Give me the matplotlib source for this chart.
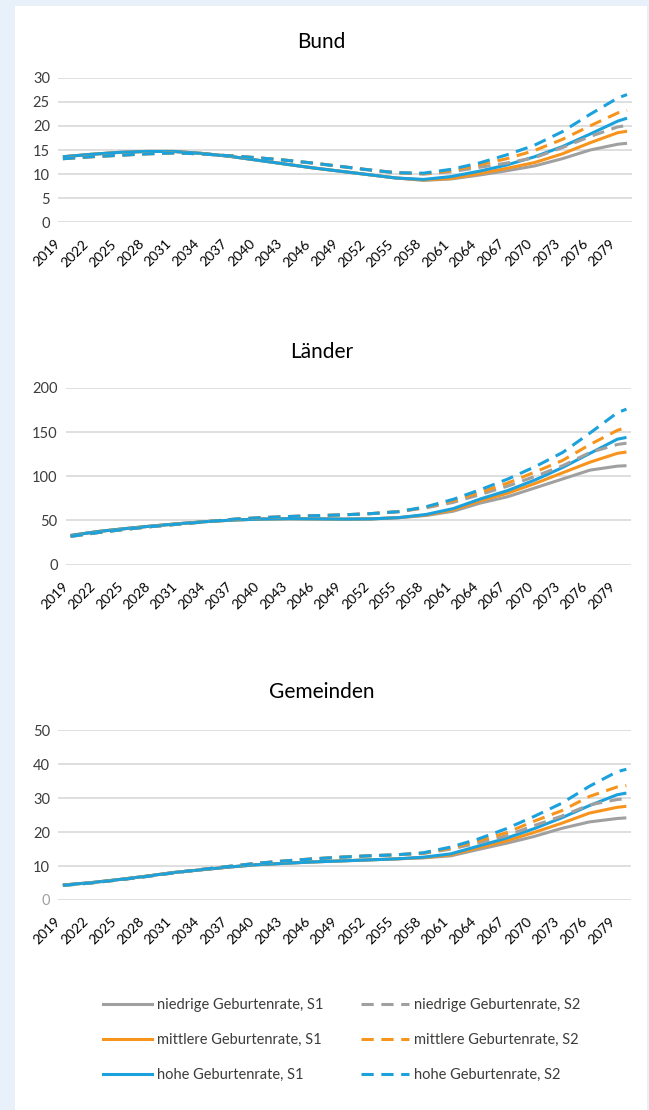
import matplotlib
matplotlib.use("Agg")
from matplotlib import pyplot as plt
from matplotlib.lines import Line2D
from matplotlib.patches import Rectangle

plt.rcParams['font.family'] = ['Lato', 'DejaVu Sans']

years = [2019, 2022, 2025, 2028, 2031, 2034, 2037, 2040, 2043, 2046, 2049,
         2052, 2055, 2058, 2061, 2064, 2067, 2070, 2073, 2076, 2079, 2080]
tick_years = list(range(2019, 2080, 3))

labels = ['niedrige Geburtenrate, S1', 'mittlere Geburtenrate, S1', 'hohe Geburtenrate, S1',
          'niedrige Geburtenrate, S2', 'mittlere Geburtenrate, S2', 'hohe Geburtenrate, S2']
colors = ['#a0a0a0', '#f7941d', '#1ba1dc'] * 2

# Bund
bund_s1_low = [13.6, 14.1, 14.5, 14.7, 14.7, 14.3, 13.7, 12.9, 12.1, 11.3, 10.6,
               9.9, 9.2, 8.7, 9.0, 9.8, 10.7, 11.7, 13.2, 15.0, 16.2, 16.4]
bund_s1_mid = [13.6, 14.1, 14.5, 14.7, 14.7, 14.3, 13.7, 12.9, 12.1, 11.3, 10.6,
               9.9, 9.2, 8.8, 9.1, 10.1, 11.2, 12.4, 14.2, 16.5, 18.6, 18.9]
bund_s1_high = [13.6, 14.1, 14.5, 14.7, 14.7, 14.3, 13.7, 12.9, 12.1, 11.3, 10.6,
                9.9, 9.2, 8.9, 9.5, 10.6, 11.9, 13.6, 15.7, 18.3, 21.0, 21.6]
bund_s2_low = [13.2, 13.6, 13.9, 14.2, 14.4, 14.2, 13.8, 13.4, 12.9, 12.3, 11.6,
               10.9, 10.3, 10.0, 10.5, 11.4, 12.3, 13.4, 15.5, 17.8, 19.8, 20.1]
bund_s2_mid = [13.2, 13.6, 13.9, 14.2, 14.4, 14.2, 13.8, 13.4, 12.9, 12.3, 11.6,
               10.9, 10.3, 10.1, 10.7, 11.9, 13.2, 14.9, 17.2, 20.0, 22.7, 23.2]
bund_s2_high = [13.2, 13.6, 13.9, 14.2, 14.4, 14.2, 13.8, 13.4, 12.9, 12.3, 11.6,
                10.9, 10.3, 10.2, 11.0, 12.3, 14.0, 16.0, 18.8, 22.4, 25.8, 26.5]

# Länder
laender_s1_low = [33, 37.5, 40.8, 43.8, 46.5, 48.8, 50.6, 51.6, 52, 51.8, 51.5,
                  51.8, 53.2, 55.6, 60.5, 69.8, 77, 87, 97, 107, 111.5, 112]
laender_s1_mid = [33, 37.5, 40.8, 43.8, 46.5, 48.8, 50.6, 51.6, 52, 51.8, 51.5,
                  51.8, 53.2, 56.2, 62, 72.5, 81, 92, 104, 116, 126, 127.5]
laender_s1_high = [33, 37.5, 40.8, 43.8, 46.5, 48.8, 50.6, 51.6, 52, 51.8, 51.5,
                   51.8, 53.2, 56.8, 63.5, 74.5, 84, 96, 110, 126, 142, 144]
laender_s2_low = [32, 36.3, 40, 43.2, 46, 48.7, 51.5, 53.2, 54.5, 55.5, 56.4,
                  57.8, 60, 64.3, 70.5, 79.5, 89, 100, 112, 127, 136, 137.5]
laender_s2_mid = [32, 36.3, 40, 43.2, 46, 48.7, 51.5, 53.2, 54.5, 55.5, 56.4,
                  57.8, 60, 65, 72.5, 82, 92.5, 105, 118, 136, 152, 155.5]
laender_s2_high = [32, 36.3, 40, 43.2, 46, 48.7, 51.5, 53.2, 54.5, 55.5, 56.4,
                   57.8, 60, 65.5, 74, 85, 97, 111, 127, 149, 172, 176]

# Gemeinden
gem_s1_low = [4.4, 5.1, 6.0, 7.0, 8.1, 8.9, 9.7, 10.4, 10.8, 11.2, 11.5,
              11.8, 12.1, 12.4, 13.0, 14.9, 16.7, 18.7, 21.1, 23.0, 24.0, 24.2]
gem_s1_mid = [4.4, 5.1, 6.0, 7.0, 8.1, 8.9, 9.7, 10.4, 10.8, 11.2, 11.5,
              11.8, 12.1, 12.5, 13.3, 15.4, 17.4, 19.9, 22.6, 25.6, 27.3, 27.6]
gem_s1_high = [4.4, 5.1, 6.0, 7.0, 8.1, 8.9, 9.7, 10.4, 10.8, 11.2, 11.5,
               11.8, 12.1, 12.6, 13.6, 15.9, 18.2, 21.0, 24.2, 27.8, 31.0, 31.5]
gem_s2_low = [4.3, 5.0, 5.9, 6.9, 8.0, 9.0, 9.9, 10.8, 11.5, 12.1, 12.6,
              13.0, 13.3, 13.7, 15.0, 16.8, 18.9, 21.9, 24.7, 28.0, 29.6, 29.8]
gem_s2_mid = [4.3, 5.0, 5.9, 6.9, 8.0, 9.0, 9.9, 10.8, 11.5, 12.1, 12.6,
              13.0, 13.3, 13.8, 15.3, 17.4, 19.8, 23.2, 26.3, 30.5, 33.3, 33.7]
gem_s2_high = [4.3, 5.0, 5.9, 6.9, 8.0, 9.0, 9.9, 10.8, 11.5, 12.1, 12.6,
               13.0, 13.3, 13.9, 15.6, 18.0, 21.0, 24.6, 28.5, 33.5, 37.8, 38.5]

panels = [
    ('Bund', [bund_s1_low, bund_s1_mid, bund_s1_high, bund_s2_low, bund_s2_mid, bund_s2_high],
     [0, 5, 10, 15, 20, 25, 30], [0.0898, 0.7997, 0.8835, 0.1303], 1 - 42 / 1110),
    ('Länder', [laender_s1_low, laender_s1_mid, laender_s1_high,
                laender_s2_low, laender_s2_mid, laender_s2_high],
     [0, 50, 100, 150, 200], [0.1017, 0.4913, 0.8706, 0.1592], 1 - 352 / 1110),
    ('Gemeinden', [gem_s1_low, gem_s1_mid, gem_s1_high, gem_s2_low, gem_s2_mid, gem_s2_high],
     [0, 10, 20, 30, 40, 50], [0.0898, 0.1892, 0.8824, 0.1529], 1 - 692 / 1110),
]

fig = plt.figure(figsize=(6.49, 11.10), dpi=100)
fig.patch.set_facecolor('#e8f0fa')
fig.patches.append(Rectangle((15 / 649, 0), (647 - 15) / 649, 1 - 6 / 1110,
                             transform=fig.transFigure, facecolor='white',
                             edgecolor='none', zorder=-10))

text_col = '#3c3c3b'
for name, series, yt, pos, ty in panels:
    ax = fig.add_axes(pos)
    ax.set_zorder(1)
    ax.set_facecolor('none')
    for i, vals in enumerate(series):
        ls = '-' if i < 3 else (0, (4, 2.5))
        ax.plot(years, vals, color=colors[i], lw=2.2, linestyle=ls,
                solid_capstyle='butt', dash_capstyle='butt')
    ax.set_xlim(2018.5, 2080.5)
    ax.set_ylim(yt[0], yt[-1])
    ax.set_yticks(yt)
    ax.set_xticks(tick_years)
    ax.set_xticklabels([str(y) for y in tick_years], rotation=45, ha='right',
                       fontsize=10, color='black')
    ax.tick_params(axis='x', length=0, pad=11)
    ax.tick_params(axis='y', length=0, pad=6, labelsize=10.5, labelcolor=text_col)
    ax.grid(axis='y', color='#d9d9d9', lw=1.2)
    ax.set_axisbelow(True)
    for s in ax.spines.values():
        s.set_visible(False)
    if name == 'Gemeinden':
        ax.get_yticklabels()[0].set_color('#a0a0a0')
    fig.text(0.495, ty, name, ha='center', va='center', fontsize=15, color='black')

handles = [Line2D([], [], color=colors[i], lw=2.2,
                  linestyle='-' if i < 3 else (0, (4, 2.5))) for i in range(6)]
fig.legend(handles, labels, ncol=2, loc='center', bbox_to_anchor=(0.527, 1 - 1040 / 1110),
           frameon=False, fontsize=10.5, handlelength=3.3, handletextpad=0.35,
           columnspacing=2.6, labelspacing=1.45, labelcolor=text_col)

fig.savefig('out.png', dpi=100, facecolor=fig.get_facecolor())
